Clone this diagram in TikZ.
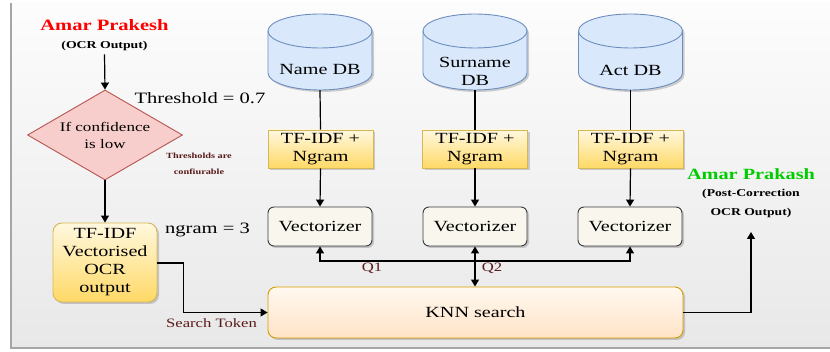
\documentclass[tikz,border=0pt]{standalone}
\usepackage{fontspec}
\setmainfont{Liberation Serif}[FakeStretch=1.3]
\usetikzlibrary{shapes.geometric,arrows.meta,shadows}
\definecolor{dbfill}{HTML}{DAE8FC}
\definecolor{dbline}{HTML}{6C8EBF}
\definecolor{yfillt}{HTML}{FFF8DF}
\definecolor{yfillb}{HTML}{FFD966}
\definecolor{yline}{HTML}{D6B656}
\definecolor{pfill}{HTML}{F8CECC}
\definecolor{pline}{HTML}{B85450}
\definecolor{ofillt}{HTML}{FFF8F0}
\definecolor{ofillb}{HTML}{FFE3C6}
\definecolor{oline}{HTML}{D79B00}
\definecolor{vfill}{HTML}{F9F7ED}
\definecolor{vline}{HTML}{36393D}
\definecolor{darkred}{HTML}{5A1A1A}
\definecolor{myred}{HTML}{FF0000}
\definecolor{mygreen}{HTML}{00CC00}
\tikzset{
  conn/.style={line width=1.2pt,black},
  arr/.style={conn,-{Triangle[length=7pt,width=8pt]}},
  darr/.style={conn,{Triangle[length=7pt,width=8pt]}-{Triangle[length=7pt,width=8pt]}},
  shad/.style={drop shadow={shadow xshift=2pt,shadow yshift=-2pt,opacity=0.3,fill=black!60}},
  mainfont/.style={font=\fontsize{15.5}{18}\selectfont},
  dbnode/.style={rectangle,inner sep=0pt,minimum width=104pt,minimum height=76pt},
  dbtext/.style={mainfont,align=center,inner sep=0pt},
  tfbox/.style={rectangle,draw=yline,top color=yfillt,bottom color=yfillb,line width=0.9pt,minimum width=105pt,minimum height=38pt,inner sep=1pt,mainfont,align=center,shad},
  vecbox/.style={rectangle,rounded corners=6pt,draw=vline,fill=vfill,line width=0.9pt,minimum width=104pt,minimum height=39pt,mainfont,shad},
  qlabel/.style={text=darkred,font=\fontsize{12.8}{14}\selectfont},
}
% cylinder: #1 = centre x, top at y=14, bottom at y=90
\newcommand\dbcyl[1]{%
  \fill[black!60,opacity=0.3] ({#1-52+2},33) -- ({#1-52+2},75) arc[start angle=180,end angle=0,x radius=52,y radius=17] -- ({#1+52+2},33) arc[start angle=0,end angle=-180,x radius=52,y radius=17] -- cycle;
  \filldraw[draw=dbline,fill=dbfill,line width=0.9pt] ({#1-52},31) -- ({#1-52},73) arc[start angle=180,end angle=0,x radius=52,y radius=17] -- ({#1+52},31) arc[start angle=0,end angle=-180,x radius=52,y radius=17] -- cycle;
  \draw[dbline,line width=0.9pt] ({#1-52},31) arc[start angle=180,end angle=0,x radius=52,y radius=17];
}
\begin{document}
\begin{tikzpicture}[x=1pt,y=-1pt]
\useasboundingbox (0,0) rectangle (830,352);
\fill[white] (0,0) rectangle (830,352);
\shade[top color=gray!2,bottom color=gray!18] (11,3) rectangle (830,348);
\draw[gray!70,line width=1.2pt] (11,3) -- (11,348) -- (830,348);

% top-left text
\node[text=myred,font=\bfseries\fontsize{15.8}{17}\selectfont] (in) at (104.5,25) {Amar Prakesh};
\node[font=\bfseries\fontsize{10.6}{12}\selectfont] (insub) at (104.5,46) {(OCR Output)};

\node[diamond,draw=pline,fill=pfill,line width=0.9pt,minimum width=155pt,minimum height=90pt,inner sep=0pt,aspect=1.72,align=center,font=\fontsize{13.1}{17}\selectfont] (dia) at (105,135) {If confidence\\is low};
\node[font=\fontsize{15.8}{17}\selectfont] (thr) at (200,98) {Threshold = 0.7};
\node[text=darkred,font=\bfseries\fontsize{7.9}{16}\selectfont,align=center] (thrs) at (199,164) {Thresholds are\\confiurable};

\node[rectangle,rounded corners=9pt,draw=yline,top color=yfillt,bottom color=yfillb,line width=0.9pt,minimum width=104pt,minimum height=79pt,inner sep=1pt,align=center,mainfont,shad] (ocr) at (105,262.5) {TF-IDF\\Vectorised\\OCR\\output};
\node[font=\fontsize{15.8}{17}\selectfont] (ng) at (207.5,230) {ngram = 3};

% databases
\dbcyl{320}
\dbcyl{475}
\dbcyl{630.5}
\node[dbnode] (db1) at (320,52) {};
\node[dbnode] (db2) at (475,52) {};
\node[dbnode] (db3) at (630.5,52) {};
\node[dbtext] (db1t) at (320,70) {Name DB};
\node[dbtext] (db2t) at (475,71) {Surname\\DB};
\node[dbtext] (db3t) at (630.5,70) {Act DB};

\node[tfbox] (tf1) at (320.5,149) {TF-IDF +\\Ngram};
\node[tfbox] (tf2) at (475,149) {TF-IDF +\\Ngram};
\node[tfbox] (tf3) at (630.5,149) {TF-IDF +\\Ngram};

\node[vecbox] (v1) at (320,226.5) {Vectorizer};
\node[vecbox] (v2) at (475,226.5) {Vectorizer};
\node[vecbox] (v3) at (630,226.5) {Vectorizer};

\node[rectangle,rounded corners=8pt,draw=oline,top color=ofillt,bottom color=ofillb,line width=0.9pt,minimum width=415pt,minimum height=51pt,mainfont,shad] (knn) at (475.5,312.5) {KNN search};

% output text
\node[text=mygreen,font=\bfseries\fontsize{15.6}{17}\selectfont] (out) at (751,174) {Amar Prakash};
\node[font=\bfseries\fontsize{10.5}{19}\selectfont,align=center] (outsub) at (751,203) {(Post-Correction\\OCR Output)};
\coordinate (outpt) at (751,232);

% connectors
\draw[arr] (insub.south) -- (dia.north);
\draw[arr] (dia.south) -- (ocr.north);
\draw[arr] (ocr.east) ++(0,0.5) -- ++(26,0) |- (knn.west);
\node[qlabel] (st) at (211.5,323) {Search Token};

\draw[conn] (db1.south) -- (tf1.north);
\draw[conn] (db2.south) -- (tf2.north);
\draw[conn] (db3.south) -- (tf3.north);
\draw[arr] (tf1.south) -- (v1.north);
\draw[arr] (tf2.south) -- (v2.north);
\draw[arr] (tf3.south) -- (v3.north);

\coordinate (qj) at (475,261);
\draw[arr] (qj) -| (v1.south);
\draw[arr] (qj) -| (v3.south);
\draw[darr] (v2.south) -- (v2.south |- knn.north);
\node[qlabel] (q1) at (372,268) {Q1};
\node[qlabel] (q2) at (492,268) {Q2};

\draw[arr] (knn.east) -| (outpt);
\end{tikzpicture}
\end{document}
